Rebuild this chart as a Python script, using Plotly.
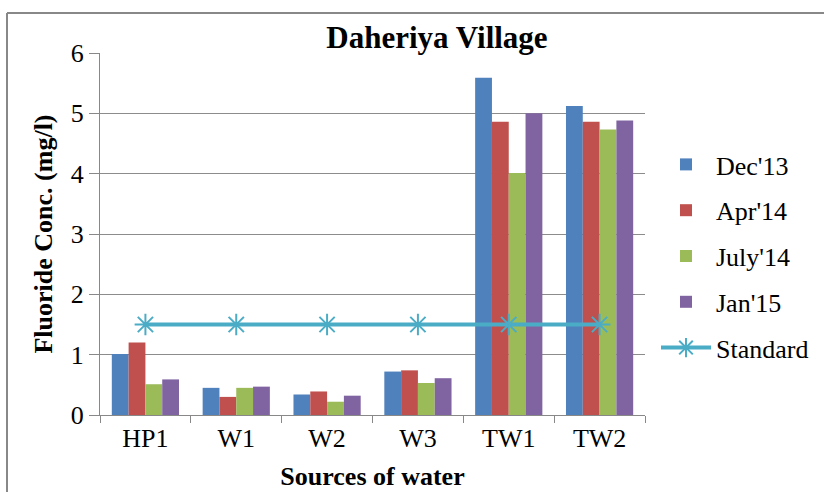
import plotly.graph_objects as go

categories = ["HP1", "W1", "W2", "W3", "TW1", "TW2"]
dec13 = [1.01, 0.45, 0.34, 0.72, 5.59, 5.12]
apr14 = [1.20, 0.30, 0.39, 0.74, 4.86, 4.86]
jul14 = [0.51, 0.45, 0.22, 0.53, 4.01, 4.73]
jan15 = [0.59, 0.47, 0.32, 0.61, 5.00, 4.88]
standard = [1.5, 1.5, 1.5, 1.5, 1.5, 1.5]

series = [("Dec'13", dec13, "#4F81BD"), ("Apr'14", apr14, "#C0504D"),
          ("July'14", jul14, "#9BBB59"), ("Jan'15", jan15, "#8064A2")]

FONT = "Liberation Serif"
fig = go.Figure()
for i, (name, vals, col) in enumerate(series):
    fig.add_trace(go.Bar(x=categories, y=vals, name=name, marker_color=col,
                         marker_line_width=0, legendgroup=str(i)))
fig.add_trace(go.Scatter(x=categories, y=standard, name="Standard", mode="lines+markers",
                         line=dict(color="#4BACC6", width=4),
                         marker=dict(symbol="asterisk-open", size=18,
                                     line=dict(color="#4BACC6", width=2)),
                         legendgroup="s"))

W, H = 824, 492
L, R, T, B = 100, 179, 53, 77
pw, ph = W - L - R, H - T - B

fig.update_layout(
    width=W, height=H,
    margin=dict(l=L, r=R, t=T, b=B, autoexpand=False),
    paper_bgcolor="white", plot_bgcolor="white",
    font=dict(family=FONT, size=26, color="black"),
    barmode="group", bargap=0.26, bargroupgap=0,
    title=dict(text="<b>Daheriya Village</b>", font=dict(size=31, family=FONT),
               x=(437 - L) / pw, xref="paper", xanchor="center",
               y=1 - 37 / H, yref="container", yanchor="middle"),
    legend=dict(x=(656 - L) / pw, xanchor="left", y=1 - (141 - T) / ph, yanchor="top",
                traceorder="grouped", tracegroupgap=9, font=dict(size=26),
                itemwidth=50, bgcolor="rgba(0,0,0,0)"),
    xaxis=dict(title=dict(text="<b>Sources of water</b>", font=dict(size=26), standoff=14),
               automargin=False,
               showline=True, linecolor="#888888", linewidth=1,
               ticks="outside", tickson="boundaries", ticklen=7, tickcolor="#888888",
               showgrid=False, tickfont=dict(size=26)),
    yaxis=dict(title=dict(text="<b>Fluoride Conc. (mg/l)</b>", font=dict(size=26), standoff=10),
               automargin=False,
               range=[0, 6], dtick=1, showline=True, linecolor="#888888", linewidth=1,
               ticks="outside", ticklen=10, tickcolor="#888888",
               showgrid=True, gridcolor="#8c8c8c", gridwidth=1,
               zeroline=False, tickfont=dict(size=26)),
    shapes=[
        dict(type="line", xref="paper", yref="paper",
             x0=(7 - L) / pw, x1=(W + 5 - L) / pw, y0=1 + (T - 13) / ph, y1=1 + (T - 13) / ph,
             line=dict(color="#888888", width=2)),
        dict(type="line", xref="paper", yref="paper",
             x0=(7 - L) / pw, x1=(7 - L) / pw, y0=1 + (T - 13) / ph, y1=-(B + 5) / ph,
             line=dict(color="#888888", width=2)),
    ],
)
fig.write_html("out.html", config={"displayModeBar": False},
               post_script="document.body.style.margin='0px';")
